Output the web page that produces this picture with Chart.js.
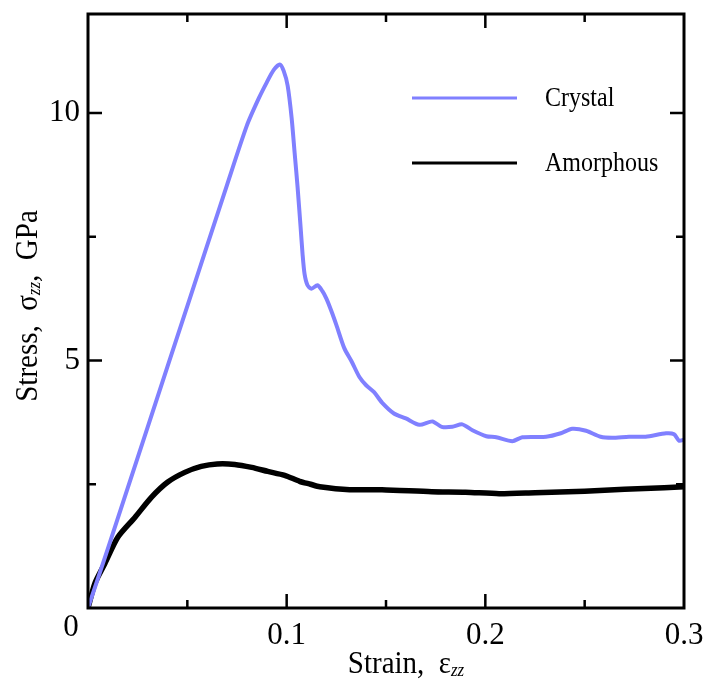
<!DOCTYPE html>
<html>
<head>
<meta charset="utf-8">
<script src="https://cdn.jsdelivr.net/npm/chart.js@4.4.1/dist/chart.umd.min.js"></script>
<style>
  html, body { margin: 0; padding: 0; background: #fff; }
  #wrap { width: 704px; height: 682px; }
</style>
</head>
<body>
<div id="wrap"><canvas id="chart" width="704" height="682"></canvas></div>
<script>
// Values
const crystalStrain = [0, 0.01, 0.03, 0.05, 0.07, 0.08, 0.086, 0.09, 0.0935, 0.0965, 0.0985, 0.1005,
    0.1025, 0.104, 0.1055, 0.107, 0.108, 0.109, 0.1105, 0.1125, 0.1155, 0.118, 0.12, 0.1225, 0.125,
    0.129, 0.1327, 0.1367, 0.14, 0.144, 0.148, 0.154, 0.16, 0.1668, 0.1734, 0.178, 0.1834, 0.1884,
    0.1935, 0.2005, 0.2055, 0.2136, 0.2186, 0.2306, 0.238, 0.2437, 0.2507, 0.258, 0.2638, 0.2723,
    0.2807, 0.291, 0.295, 0.2975, 0.3];
const crystalStress = [0, 1.2, 3.65, 6.1, 8.55, 9.75, 10.3, 10.62, 10.87, 10.98, 10.85, 10.55,
    9.9, 9.2, 8.5, 7.7, 7.15, 6.75, 6.52, 6.45, 6.52, 6.4, 6.25, 6.0, 5.72,
    5.25, 4.98, 4.66, 4.5, 4.36, 4.15, 3.93, 3.83, 3.7, 3.77, 3.66, 3.66, 3.71,
    3.59, 3.47, 3.45, 3.37, 3.45, 3.46, 3.53, 3.62, 3.58, 3.46, 3.44, 3.46,
    3.46, 3.53, 3.51, 3.38, 3.4];

const amorphStrain = [0, 0.0035, 0.0085, 0.015, 0.0236, 0.032, 0.04, 0.0487, 0.057, 0.065, 0.0739,
    0.0824, 0.0905, 0.099, 0.1065, 0.112, 0.1166, 0.1317, 0.148, 0.173, 0.19, 0.207, 0.225, 0.25,
    0.27, 0.29, 0.3];
const amorphStress = [0, 0.5, 0.9, 1.43, 1.83, 2.24, 2.54, 2.74, 2.86, 2.91, 2.9,
    2.84, 2.76, 2.68, 2.56, 2.5, 2.45, 2.39, 2.39, 2.35, 2.34, 2.31, 2.33, 2.36,
    2.4, 2.43, 2.45];

const xMajorTicks = [0.1, 0.2];
const xMinorTicks = [0.05, 0.15, 0.25];
const yMajorTicks = [5, 10];
const yMinorTicks = [2.5, 7.5];

const serif = "'Liberation Serif', 'DejaVu Serif', serif";

function toPoints(xs, ys) {
    return xs.map((x, i) => ({ x: x, y: ys[i] }));
}

// Inward ticks on all four sides, box frame, titles with subscripts and the legend
const decorations = {
    id: 'decorations',
    afterDraw(chart) {
        const ctx = chart.ctx;
        const area = chart.chartArea;
        const xs = chart.scales.x;
        const ys = chart.scales.y;
        ctx.save();
        ctx.strokeStyle = '#000';
        ctx.lineWidth = 2.5;

        function xTick(v, len) {
            const px = xs.getPixelForValue(v);
            ctx.beginPath();
            ctx.moveTo(px, area.bottom);
            ctx.lineTo(px, area.bottom - len);
            ctx.moveTo(px, area.top);
            ctx.lineTo(px, area.top + len);
            ctx.stroke();
        }
        function yTick(v, len) {
            const py = ys.getPixelForValue(v);
            ctx.beginPath();
            ctx.moveTo(area.left, py);
            ctx.lineTo(area.left + len, py);
            ctx.moveTo(area.right, py);
            ctx.lineTo(area.right - len, py);
            ctx.stroke();
        }
        xMajorTicks.forEach((v) => xTick(v, 14));
        xMinorTicks.forEach((v) => xTick(v, 8));
        yMajorTicks.forEach((v) => yTick(v, 14));
        yMinorTicks.forEach((v) => yTick(v, 8));

        // frame
        ctx.lineWidth = 3;
        ctx.strokeRect(area.left, area.top, area.right - area.left, area.bottom - area.top);

        ctx.fillStyle = '#000';
        // shared origin label
        ctx.font = '31px ' + serif;
        ctx.textAlign = 'center';
        ctx.textBaseline = 'middle';
        ctx.fillText('0', 71, 628);

        // x title: Strain,  ε_zz
        const bigFont = '29px ' + serif;
        const subFont = 'italic 17px ' + serif;
        ctx.textBaseline = 'alphabetic';
        ctx.textAlign = 'left';
        ctx.font = bigFont;
        const xMain = 'Strain,  \u03B5';
        const wMain = ctx.measureText(xMain).width;
        ctx.font = subFont;
        const wSub = ctx.measureText('zz').width;
        let sx = 406 - (wMain + wSub) / 2;
        ctx.save();
        ctx.translate(0, 673);
        ctx.scale(1, 1.12);
        ctx.font = bigFont;
        ctx.fillText(xMain, sx, 0);
        ctx.font = subFont;
        ctx.fillText('zz', sx + wMain, 3);
        ctx.restore();

        // y title: Stress,  σ_zz,  GPa (rotated)
        ctx.save();
        ctx.translate(37, 306);
        ctx.rotate(-Math.PI / 2);
        ctx.scale(1, 1.12);
        const parts = [
            { t: 'Stress,  \u03C3', f: bigFont, dy: 0 },
            { t: 'zz', f: subFont, dy: 3 },
            { t: ',  GPa', f: bigFont, dy: 0 }
        ];
        let total = 0;
        parts.forEach((p) => { ctx.font = p.f; p.w = ctx.measureText(p.t).width; total += p.w; });
        let cx = -total / 2;
        parts.forEach((p) => {
            ctx.font = p.f;
            ctx.fillText(p.t, cx, p.dy);
            cx += p.w;
        });
        ctx.restore();

        // legend
        const rows = [98, 163];
        chart.data.datasets.forEach((ds, i) => {
            ctx.strokeStyle = ds.borderColor;
            ctx.lineWidth = 3;
            ctx.beginPath();
            ctx.moveTo(412, rows[i]);
            ctx.lineTo(517, rows[i]);
            ctx.stroke();
            ctx.save();
            ctx.translate(545, rows[i] + 1);
            ctx.scale(1, 1.15);
            ctx.fillStyle = '#000';
            ctx.font = '24px ' + serif;
            ctx.textBaseline = 'middle';
            ctx.fillText(ds.label, 0, 0);
            ctx.restore();
        });
        ctx.restore();
    }
};

new Chart(document.getElementById('chart'), {
    type: 'scatter',
    data: {
        datasets: [{
            label: 'Crystal',
            data: toPoints(crystalStrain, crystalStress),
            showLine: true,
            borderColor: '#8080ff',
            borderWidth: 4,
            pointRadius: 0,
            tension: 0.25
        }, {
            label: 'Amorphous',
            data: toPoints(amorphStrain, amorphStress),
            showLine: true,
            borderColor: '#000000',
            borderWidth: 5.5,
            pointRadius: 0,
            tension: 0.25
        }]
    },
    options: {
        responsive: false,
        animation: false,
        layout: { padding: { top: 14, right: 20, left: 0, bottom: 0 } },
        plugins: {
            legend: { display: false },
            tooltip: { enabled: false }
        },
        scales: {
            x: {
                type: 'linear',
                min: 0,
                max: 0.3,
                grid: { display: false, drawTicks: false },
                border: { display: false },
                ticks: {
                    stepSize: 0.1,
                    padding: 9,
                    maxRotation: 0,
                    color: '#000',
                    font: { family: serif, size: 31 },
                    callback: (v) => (Math.abs(v) < 1e-9 ? '' : (Math.round(v * 10) / 10).toString())
                },
                afterFit: (scale) => {
                    scale.height = 74;
                    scale.paddingLeft = 0;
                    scale.paddingRight = 0;
                }
            },
            y: {
                min: 0,
                max: 12,
                grid: { display: false, drawTicks: false },
                border: { display: false },
                ticks: {
                    stepSize: 5,
                    includeBounds: false,
                    padding: 8,
                    color: '#000',
                    font: { family: serif, size: 31 },
                    callback: (v) => (v === 0 ? '' : v.toString())
                },
                afterFit: (scale) => {
                    scale.width = 88;
                    scale.paddingTop = 0;
                    scale.paddingBottom = 0;
                }
            }
        }
    },
    plugins: [decorations]
});
</script>
</body>
</html>
